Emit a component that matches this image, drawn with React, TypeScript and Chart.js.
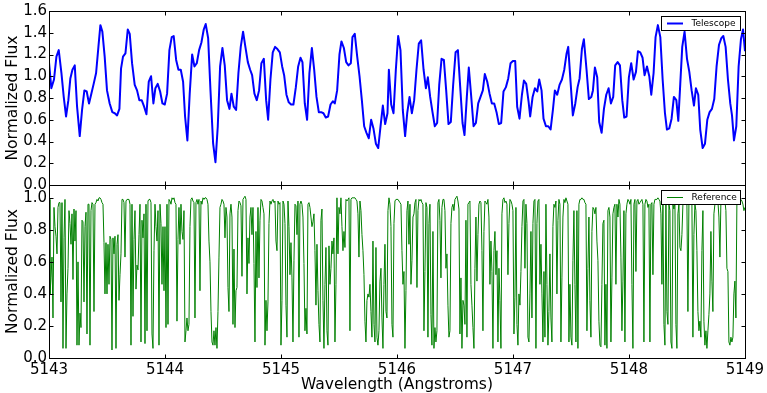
import React, { useEffect, useRef } from 'react';
import { Chart, registerables } from 'chart.js';

Chart.register(...registerables);

const FONT = 'DejaVu Sans';
const X_MIN = 5143;
const X_MAX = 5149;
const X_TICKS = [5143, 5144, 5145, 5146, 5147, 5148, 5149];
const TOP_Y_MAX = 1.6;
const TOP_Y_TICKS = [0, 0.2, 0.4, 0.6, 0.8, 1.0, 1.2, 1.4, 1.6];
const BOTTOM_Y_MAX = 1.08;
const BOTTOM_Y_TICKS = [0, 0.2, 0.4, 0.6, 0.8, 1.0];
const Y_TITLE = 'Normalized Flux';
const X_TITLE = 'Wavelength (Angstroms)';
const TEL_LABEL = 'Telescope';
const REF_LABEL = 'Reference';

// Telescope spectrum (wavelength in Angstroms, normalized flux)
const TEL_WAVE = [
  5143.000, 5143.020, 5143.043, 5143.064, 5143.084, 5143.107, 5143.127, 5143.147, 5143.167, 5143.184,
  5143.202, 5143.222, 5143.242, 5143.265, 5143.285, 5143.305, 5143.325, 5143.345, 5143.365, 5143.385,
  5143.406, 5143.426, 5143.443, 5143.460, 5143.480, 5143.500, 5143.523, 5143.546, 5143.567, 5143.587,
  5143.607, 5143.621, 5143.638, 5143.659, 5143.679, 5143.696, 5143.716, 5143.739, 5143.759, 5143.779,
  5143.799, 5143.820, 5143.840, 5143.860, 5143.880, 5143.900, 5143.917, 5143.937, 5143.958, 5143.978,
  5143.998, 5144.018, 5144.038, 5144.058, 5144.075, 5144.096, 5144.116, 5144.136, 5144.156, 5144.173,
  5144.193, 5144.213, 5144.234, 5144.254, 5144.274, 5144.294, 5144.314, 5144.334, 5144.351, 5144.372,
  5144.392, 5144.415, 5144.435, 5144.455, 5144.475, 5144.495, 5144.515,
  5144.535, 5144.556, 5144.573, 5144.593, 5144.613, 5144.633, 5144.653, 5144.673, 5144.693, 5144.714,
  5144.734, 5144.751, 5144.771, 5144.791, 5144.811, 5144.831, 5144.852, 5144.872, 5144.889, 5144.909,
  5144.929, 5144.949, 5144.969, 5144.990, 5145.010, 5145.027, 5145.047, 5145.067, 5145.087, 5145.107,
  5145.128, 5145.148, 5145.168, 5145.185, 5145.205, 5145.225, 5145.245, 5145.266, 5145.286, 5145.306,
  5145.326, 5145.346, 5145.366, 5145.386, 5145.406, 5145.427, 5145.447, 5145.464, 5145.484, 5145.504,
  5145.521, 5145.542, 5145.562, 5145.582, 5145.602, 5145.616, 5145.636, 5145.657, 5145.677, 5145.697,
  5145.717, 5145.737, 5145.757, 5145.777, 5145.797, 5145.818, 5145.838, 5145.858, 5145.878, 5145.898,
  5145.918, 5145.930, 5145.950, 5145.970, 5145.990, 5146.010, 5146.030, 5146.050, 5146.070,
  5146.088, 5146.108, 5146.128, 5146.148, 5146.168, 5146.188, 5146.208, 5146.229, 5146.249, 5146.266,
  5146.286, 5146.306, 5146.326, 5146.346, 5146.364, 5146.384, 5146.404, 5146.424, 5146.444, 5146.464,
  5146.484, 5146.505, 5146.525, 5146.545, 5146.565, 5146.582, 5146.602, 5146.619, 5146.640, 5146.660,
  5146.680, 5146.700, 5146.720, 5146.740, 5146.757, 5146.778, 5146.798, 5146.818, 5146.838, 5146.858,
  5146.878, 5146.898, 5146.918, 5146.939, 5146.959, 5146.979, 5146.999, 5147.019, 5147.036, 5147.056,
  5147.077, 5147.094, 5147.114, 5147.134, 5147.148, 5147.169, 5147.189, 5147.209, 5147.226, 5147.246,
  5147.263, 5147.284, 5147.304, 5147.324, 5147.344, 5147.361, 5147.381, 5147.401, 5147.422, 5147.442,
  5147.462, 5147.476, 5147.496, 5147.516, 5147.537, 5147.557, 5147.574, 5147.594, 5147.611,
  5147.634, 5147.654, 5147.675, 5147.689, 5147.706, 5147.726, 5147.743, 5147.764, 5147.784, 5147.804,
  5147.824, 5147.844, 5147.864, 5147.881, 5147.902, 5147.922, 5147.942, 5147.959, 5147.979, 5147.999,
  5148.019, 5148.040, 5148.060, 5148.077, 5148.097, 5148.117, 5148.134, 5148.155, 5148.175, 5148.192,
  5148.212, 5148.229, 5148.249, 5148.270, 5148.290, 5148.310, 5148.327, 5148.347, 5148.367, 5148.387,
  5148.408, 5148.425, 5148.442, 5148.459, 5148.479, 5148.500, 5148.520, 5148.540, 5148.560, 5148.577,
  5148.597, 5148.614, 5148.635, 5148.655, 5148.675, 5148.695, 5148.715, 5148.735, 5148.755, 5148.776,
  5148.796, 5148.813, 5148.833, 5148.853, 5148.873, 5148.888, 5148.905, 5148.925, 5148.945, 5148.965,
  5148.983, 5149.000,
];

const TEL_FLUX = [
  1.13, 0.89, 0.97, 1.18, 1.24, 1.03, 0.81, 0.63, 0.78, 0.98,
  1.06, 1.10, 0.72, 0.45, 0.69, 0.87, 0.86, 0.75, 0.84, 0.93,
  1.03, 1.27, 1.47, 1.41, 1.18, 0.87, 0.75, 0.67, 0.66, 0.64,
  0.70, 1.07, 1.18, 1.21, 1.43, 1.39, 1.12, 0.92, 0.87, 0.78,
  0.78, 0.72, 0.65, 0.95, 1.00, 0.75, 0.89, 0.93, 0.86, 0.75,
  0.74, 0.84, 1.24, 1.36, 1.37, 1.15, 1.06, 1.06, 0.95, 0.63,
  0.41, 0.84, 1.20, 1.09, 1.12, 1.24, 1.31, 1.43, 1.48, 1.35,
  0.87, 0.38, 0.21, 0.54, 1.09, 1.26, 1.10,
  0.78, 0.70, 0.84, 0.72, 0.69, 1.03, 1.27, 1.41, 1.27, 1.13,
  1.06, 1.01, 0.84, 0.78, 0.87, 1.12, 1.16, 0.78, 0.60, 0.97,
  1.22, 1.27, 1.25, 1.22, 1.09, 1.01, 0.83, 0.76, 0.74, 0.74,
  0.90, 1.09, 1.17, 1.13, 0.75, 0.60, 1.03, 1.26, 1.06, 0.81,
  0.67, 0.67, 0.66, 0.62, 0.63, 0.74, 0.77, 0.75, 0.87, 1.20,
  1.32, 1.26, 1.13, 1.10, 1.12, 1.36, 1.39, 1.18, 1.00, 0.78,
  0.54, 0.48, 0.43, 0.60, 0.52, 0.38, 0.34, 0.54, 0.73, 0.56,
  0.66, 1.06, 0.74, 0.66, 1.06, 1.37, 1.24, 0.69, 0.45,
  0.66, 0.81, 0.66, 0.78, 1.06, 1.30, 1.33, 1.06, 0.89, 0.99,
  0.81, 0.67, 0.54, 0.57, 0.92, 1.16, 1.15, 0.87, 0.56, 0.58,
  0.92, 1.22, 1.24, 0.90, 0.57, 0.46, 0.81, 1.08, 0.81, 0.54,
  0.57, 0.75, 0.81, 0.87, 1.02, 0.95, 0.84, 0.75, 0.75, 0.67,
  0.56, 0.57, 0.86, 0.90, 0.98, 1.12, 1.14, 1.14, 0.72, 0.61,
  0.83, 0.96, 0.93, 0.77, 0.63, 0.81, 0.89, 0.86, 0.97, 0.87,
  0.61, 0.54, 0.54, 0.51, 0.69, 0.87, 0.83, 0.92, 0.97, 1.06,
  1.21, 1.27, 0.95, 0.64, 0.75, 0.90, 0.98, 1.25, 1.34,
  1.06, 0.79, 0.81, 0.87, 1.08, 0.99, 0.58, 0.48, 0.70, 0.83,
  0.89, 0.75, 0.81, 1.10, 1.13, 1.10, 0.78, 0.62, 0.63, 0.99,
  1.12, 0.97, 1.04, 1.23, 1.22, 1.17, 1.01, 1.09, 1.00, 0.83,
  1.03, 1.36, 1.47, 1.36, 0.97, 0.66, 0.51, 0.52, 0.61, 0.81,
  0.78, 0.59, 0.93, 1.27, 1.41, 1.16, 1.04, 0.87, 0.73, 0.89,
  0.83, 0.51, 0.34, 0.38, 0.60, 0.67, 0.70, 0.79, 1.09, 1.29,
  1.35, 1.37, 1.27, 0.97, 0.75, 0.64, 0.41, 0.54, 1.09, 1.34,
  1.43, 1.23,
];

// Reference (synthetic) spectrum, sampled evenly from 5143 to 5149 Angstroms
const REF_START = 5143;
const REF_END = 5149;
const REF_FLUX = [
  // 5143.00 - 5144.56
  0.99, 0.40, 0.50, 0.63, 0.25, 0.94, 0.82, 0.76, 0.65, 0.94,
  0.97, 0.97, 0.35, 0.97, 0.06, 0.75, 0.99, 0.06, 0.40, 0.56,
  0.92, 0.84, 0.71, 0.90, 0.49, 0.93, 0.73, 0.92, 0.08, 0.60,
  0.08, 0.28, 0.19, 0.86, 0.85, 0.35, 0.82, 0.91, 0.15, 0.96,
  0.96, 0.08, 0.92, 0.97, 0.96, 0.29, 0.96, 0.97, 0.99, 0.98,
  1.00, 1.00, 0.99, 0.97, 0.96, 0.72, 0.40, 0.72, 0.40, 0.71,
  0.46, 0.76, 0.74, 0.05, 0.75, 0.65, 0.76, 0.06, 0.71, 0.77,
  0.36, 0.52, 0.65, 0.99, 0.99, 0.97, 0.63, 0.98, 0.99, 0.99,
  0.99, 0.96, 0.08, 0.96, 0.26, 0.74, 0.92, 0.43, 0.58, 0.55,
  0.77, 0.96, 0.10, 0.86, 0.75, 0.90, 0.09, 0.96, 0.17, 0.98,
  0.99, 0.99, 0.97, 0.15, 0.06, 0.67, 0.96, 0.82, 0.73, 0.92,
  0.08, 0.96, 0.84, 0.46, 0.82, 0.42, 0.82, 0.19, 0.96, 0.21,
  0.99, 0.98, 0.96, 1.00, 0.99, 1.00, 0.97, 0.96, 0.23, 0.74,
  0.94, 0.71, 0.96, 0.79, 0.74, 0.92, 0.10, 0.17, 0.25, 0.17,
  0.21, 0.82, 0.99, 1.00, 0.98, 0.97, 0.25, 0.97, 0.99, 0.96,
  0.99, 0.42, 0.98, 0.96, 1.00, 0.99, 1.00, 1.00, 0.99, 0.96,
  0.73, 0.60, 0.29, 0.10, 0.08, 0.17, 0.08, 0.19, 0.06, 0.29,
  0.63, 0.94, 0.96, 0.99, 0.98, 0.96, 0.75, 0.94, 0.88, 0.44,
  0.29,
  // 5144.56 - 5146.11
  0.90, 0.96, 0.88, 0.21, 0.68, 0.19, 0.42, 0.44, 0.92, 0.98,
  0.97, 0.95, 0.51, 0.99, 1.00, 1.01, 0.99, 0.40, 0.75, 0.59,
  0.88, 0.94, 0.77, 0.94, 0.59, 0.10, 0.79, 0.44, 0.94, 0.50,
  0.86, 0.99, 0.98, 0.94, 0.90, 0.08, 0.36, 0.17, 0.35, 0.84,
  0.98, 0.96, 0.98, 0.99, 0.97, 0.98, 0.73, 0.67, 0.98, 0.96,
  0.97, 0.08, 0.36, 0.98, 0.96, 0.84, 0.33, 0.13, 0.98, 0.82,
  0.52, 0.72, 0.50, 0.10, 0.61, 0.96, 0.95, 0.77, 0.98, 0.13,
  0.96, 0.98, 0.96, 0.88, 0.59, 0.17, 0.31, 0.15, 0.96, 0.97,
  0.94, 0.88, 0.82, 0.85, 0.90, 0.67, 0.33, 0.71, 0.42, 0.21,
  0.10, 0.86, 0.93, 0.36, 0.06, 0.46, 0.69, 0.17, 0.08, 0.70,
  0.46, 0.56, 0.73, 0.65, 0.75, 0.10, 0.46, 1.00, 0.65, 0.94,
  0.90, 1.00, 0.82, 0.67, 0.79, 0.69, 0.99, 0.98, 0.99, 1.00,
  0.17, 0.99, 1.00, 1.00, 1.00, 1.00, 0.99, 0.98, 0.90, 0.63,
  0.98, 0.92, 0.77, 0.67, 0.52, 0.23, 0.10, 0.36, 0.40, 0.38,
  0.46, 0.29, 0.13, 0.73, 0.21, 0.10, 0.69, 0.13, 0.08, 0.17,
  0.48, 0.56, 0.25, 0.06, 0.46, 0.71, 0.29, 0.25, 0.92, 1.00,
  0.96, 0.82, 0.21, 0.13, 0.84, 0.98, 0.99, 0.99, 0.99, 0.98,
  0.97, 0.96, 0.67, 0.46, 0.54, 0.06, 0.42, 0.92, 0.98, 0.71,
  // 5146.12 - 5147.66
  0.96, 0.46, 0.61, 0.88, 0.90, 0.97, 0.99, 0.44, 0.92, 0.99,
  0.98, 0.99, 0.97, 0.96, 0.17, 0.54, 0.97, 0.94, 0.13, 0.84,
  0.96, 0.27, 0.08, 0.79, 0.06, 0.19, 0.10, 0.17, 0.97, 0.99,
  0.86, 0.50, 0.94, 0.99, 0.99, 0.92, 0.56, 0.65, 0.33, 0.13,
  0.17, 0.84, 0.94, 0.96, 0.92, 0.99, 1.00, 1.01, 0.98, 0.93,
  0.15, 0.50, 0.06, 0.36, 0.33, 0.21, 0.86, 0.13, 0.96, 0.97,
  0.98, 0.46, 0.33, 0.19, 0.06, 0.56, 0.88, 0.48, 0.77, 0.96,
  0.98, 0.97, 0.67, 0.17, 0.79, 0.98, 0.97, 0.96, 0.99, 0.88,
  0.46, 0.73, 0.54, 0.06, 0.67, 0.79, 0.52, 0.67, 0.10, 0.56,
  0.36, 0.06, 0.90, 0.99, 1.00, 0.97, 0.98, 0.96, 0.52, 0.84,
  0.99, 0.98, 0.96, 0.92, 0.15, 0.38, 0.94, 0.21, 0.08, 0.40,
  0.33, 0.54, 0.82, 0.98, 0.99, 0.56, 0.96, 0.84, 0.13, 0.10,
  0.40, 0.79, 0.25, 0.84, 0.98, 0.99, 0.06, 0.84, 0.98, 0.99,
  0.46, 0.71, 0.40, 0.10, 0.54, 0.13, 0.96, 0.46, 0.08, 0.29,
  0.65, 0.25, 0.10, 0.82, 0.96, 0.94, 0.98, 0.40, 0.86, 0.99,
  0.96, 0.10, 0.50, 0.88, 0.99, 0.97, 1.00, 0.98, 0.96, 0.10,
  0.46, 0.13, 0.08, 0.61, 0.92, 0.46, 0.10, 0.92, 0.06, 0.96,
  0.99, 0.99, 1.00, 0.99, 0.99, 0.97, 0.96, 0.17, 0.56, 0.88,
  // 5147.67 - 5149.00
  0.36, 0.13, 0.79, 0.94, 0.93, 0.90, 0.94, 0.73, 0.61, 0.23,
  0.08, 0.07, 0.46, 0.84, 0.86, 0.08, 0.46, 0.06, 0.92, 0.94,
  0.88, 0.10, 0.50, 0.90, 0.94, 0.96, 0.46, 0.96, 0.88, 0.99,
  0.96, 0.63, 0.17, 0.48, 0.92, 0.10, 0.90, 0.96, 0.99, 0.98,
  0.96, 0.99, 0.46, 0.06, 0.96, 0.99, 0.54, 0.98, 0.99, 0.96,
  0.97, 0.98, 0.99, 0.96, 0.10, 0.96, 0.99, 0.98, 0.94, 0.96,
  0.10, 0.96, 0.97, 0.52, 0.96, 0.99, 0.99, 0.99, 1.00, 0.99,
  0.98, 0.90, 0.46, 0.96, 0.21, 0.08, 0.96, 0.29, 0.21, 0.96,
  0.92, 0.10, 0.06, 0.96, 0.93, 0.98, 0.21, 0.06, 0.90, 0.96,
  0.69, 0.67, 0.77, 0.96, 0.99, 0.98, 0.97, 0.96, 0.29, 0.96,
  0.98, 0.97, 0.96, 0.13, 0.77, 0.96, 0.92, 0.67, 0.29, 0.17,
  0.23, 0.13, 0.67, 0.92, 0.23, 0.08, 0.17, 0.06, 0.17, 0.27,
  0.40, 0.79, 0.48, 0.29, 0.90, 0.96, 0.97, 0.96, 0.98, 0.88,
  0.63, 0.98, 0.96, 0.99, 0.96, 0.98, 0.92, 0.56, 0.54, 0.10,
  0.08, 0.13, 0.10, 0.13, 0.40, 0.48, 0.25, 0.98, 0.99, 0.99,
  0.99, 0.99, 0.98, 0.96, 0.92, 0.94,
];

const BLUE = '#0000ff';
const GREEN = '#008000';

const panelPlugin = {
  id: 'panelFrame',
  afterDraw(chart: any, _args: any, opts: any) {
    const { ctx, chartArea } = chart;
    const xs = chart.scales.x;
    const ys = chart.scales.y;
    const L = Math.round(chartArea.left) + 0.5;
    const R = Math.round(chartArea.right) + 0.5;
    const T = Math.round(chartArea.top) + 0.5;
    const B = Math.round(chartArea.bottom) + 0.5;
    const TL = 4;
    ctx.save();
    ctx.strokeStyle = '#000';
    ctx.lineWidth = 1;
    ctx.strokeRect(L, T, R - L, B - T);
    ctx.beginPath();
    for (const v of X_TICKS) {
      const p = Math.round(xs.getPixelForValue(v)) + 0.5;
      ctx.moveTo(p, T); ctx.lineTo(p, T + TL);
      ctx.moveTo(p, B); ctx.lineTo(p, B - TL);
    }
    for (const v of opts.yTicks as number[]) {
      const p = Math.round(ys.getPixelForValue(v)) + 0.5;
      ctx.moveTo(L, p); ctx.lineTo(L + TL, p);
      ctx.moveTo(R, p); ctx.lineTo(R - TL, p);
    }
    ctx.stroke();

    // legend box
    const bx = 661.5, bw = 79, bh = 14;
    const by = opts.legendTop + 0.5;
    ctx.fillStyle = '#fff';
    ctx.fillRect(bx, by, bw, bh);
    ctx.strokeStyle = '#000';
    ctx.strokeRect(bx, by, bw, bh);
    const cy = by + bh / 2;
    ctx.beginPath();
    ctx.strokeStyle = opts.color;
    ctx.lineWidth = opts.lineWidth;
    ctx.moveTo(667, cy); ctx.lineTo(683, cy);
    ctx.stroke();
    ctx.fillStyle = '#000';
    ctx.font = `9px "${FONT}"`;
    ctx.textAlign = 'left';
    ctx.textBaseline = 'middle';
    ctx.fillText(opts.text, 691.5, cy);
    ctx.restore();
  },
};

const tickFont = { family: FONT, size: 15 };
const titleFont = { family: FONT, size: 15.5 };

function yScale(max: number, ticks: number[]) {
  return {
    type: 'linear',
    min: 0,
    max,
    afterBuildTicks: (s: any) => { s.ticks = ticks.map((v) => ({ value: v })); },
    afterFit: (s: any) => { s.width = 49; },
    ticks: {
      color: '#000',
      font: tickFont,
      padding: 2,
      callback: (v: any) => Number(v).toFixed(1),
    },
    grid: { display: false, drawTicks: false },
    border: { display: false },
    title: { display: true, text: Y_TITLE, color: '#000', font: titleFont, padding: { top: 4, bottom: 0 } },
  };
}

export default function App() {
  const topRef = useRef<HTMLCanvasElement>(null);
  const botRef = useRef<HTMLCanvasElement>(null);

  useEffect(() => {
    const telData = TEL_WAVE.map((w, i) => ({ x: w, y: TEL_FLUX[i] }));
    const step = (REF_END - REF_START) / (REF_FLUX.length - 1);
    const refData = REF_FLUX.map((f, i) => ({ x: REF_START + i * step, y: f }));

    const top = new Chart(topRef.current as HTMLCanvasElement, {
      type: 'line',
      data: {
        datasets: [{
          label: TEL_LABEL,
          data: telData,
          borderColor: BLUE,
          backgroundColor: BLUE,
          borderWidth: 2,
          pointRadius: 0,
          tension: 0,
          borderJoinStyle: 'round',
        }],
      },
      options: {
        responsive: false,
        animation: false,
        parsing: false,
        layout: { padding: { left: 0, right: 22, top: 11, bottom: 15 } },
        plugins: {
          legend: { display: false },
          tooltip: { enabled: false },
          panelFrame: { yTicks: TOP_Y_TICKS, legendTop: 16, color: BLUE, lineWidth: 2, text: TEL_LABEL },
        } as any,
        scales: {
          x: { type: 'linear', min: X_MIN, max: X_MAX, display: false },
          y: yScale(TOP_Y_MAX, TOP_Y_TICKS) as any,
        },
      },
      plugins: [panelPlugin],
    } as any);

    const bot = new Chart(botRef.current as HTMLCanvasElement, {
      type: 'line',
      data: {
        datasets: [{
          label: REF_LABEL,
          data: refData,
          borderColor: GREEN,
          backgroundColor: GREEN,
          borderWidth: 1,
          pointRadius: 0,
          tension: 0,
          borderJoinStyle: 'round',
        }],
      },
      options: {
        responsive: false,
        animation: false,
        parsing: false,
        layout: { padding: { left: 0, right: 22, top: 15, bottom: 0 } },
        plugins: {
          legend: { display: false },
          tooltip: { enabled: false },
          panelFrame: { yTicks: BOTTOM_Y_TICKS, legendTop: 20, color: GREEN, lineWidth: 1, text: REF_LABEL },
        } as any,
        scales: {
          x: {
            type: 'linear',
            min: X_MIN,
            max: X_MAX,
            afterBuildTicks: (s: any) => { s.ticks = X_TICKS.map((v) => ({ value: v })); },
            afterFit: (s: any) => { s.height = 35; },
            ticks: { color: '#000', font: tickFont, padding: 3, maxRotation: 0, autoSkip: false, callback: (v: any) => String(v) },
            grid: { display: false, drawTicks: false },
            border: { display: false },
            title: { display: true, text: X_TITLE, color: '#000', font: titleFont, padding: { top: 0, bottom: -1 } },
          },
          y: yScale(BOTTOM_Y_MAX, BOTTOM_Y_TICKS) as any,
        },
      },
      plugins: [panelPlugin],
    } as any);

    return () => { top.destroy(); bot.destroy(); };
  }, []);

  return (
    <div style={{ position: 'fixed', left: 0, top: 0, width: 767, height: 393, background: '#fff', overflow: 'hidden' }}>
      <canvas ref={topRef} width={767} height={200} style={{ position: 'absolute', left: 0, top: 0, width: 767, height: 200 }} />
      <canvas ref={botRef} width={767} height={223} style={{ position: 'absolute', left: 0, top: 170, width: 767, height: 223 }} />
    </div>
  );
}
